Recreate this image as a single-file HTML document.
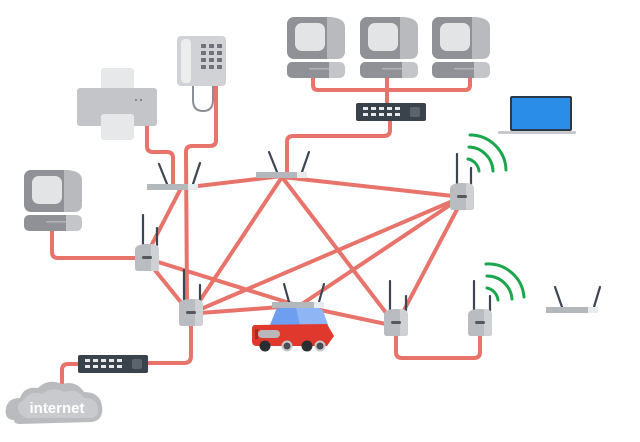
<!DOCTYPE html>
<html><head><style>
html,body{margin:0;padding:0;background:#fff;}
svg{display:block;}
</style></head><body>
<svg width="640" height="442" viewBox="0 0 640 442" xmlns="http://www.w3.org/2000/svg">
<defs>
<g id="ap">
  <path d="M-12,-8 Q-12,-14 0,-14 Q12,-14 12,-8 L12,10 Q12,13 9,13 L-9,13 Q-12,13 -12,10 Z" fill="#b9bcc1"/>
  <path d="M4,-14 Q12,-14 12,-8 L12,10 Q12,13 9,13 L4,13 Z" fill="#cfd1d5"/>
  <rect x="-5" y="-2" width="10" height="3" rx="1.5" fill="#55595f"/>
</g>
<g id="mon">
  <rect x="0" y="0" width="50" height="42" rx="7" fill="#8f9197"/>
  <path d="M40,0 Q58,0 58,10 L58,34 Q58,42 50,42 L40,42 Z" fill="#b8babe"/>
  <rect x="8" y="6" width="30" height="28" rx="7" fill="#e3e4e6"/>
  <rect x="0" y="45" width="48" height="16" rx="5" fill="#8f9197"/>
  <path d="M42,45 L52,45 Q58,45 58,51 L58,55 Q58,61 52,61 L42,61 Z" fill="#c3c5c8"/>
  <rect x="22" y="51" width="20" height="1.5" fill="#b0b2b6"/>
</g>
<g id="sw">
  <rect x="0" y="0" width="70" height="18" rx="2" fill="#3a434b"/>
  <g fill="#e8eaec">
  <rect x="7" y="4" width="5" height="3"/><rect x="15" y="4" width="5" height="3"/><rect x="23" y="4" width="5" height="3"/><rect x="31" y="4" width="5" height="3"/><rect x="39" y="4" width="5" height="3"/>
  <rect x="7" y="10" width="5" height="3"/><rect x="15" y="10" width="5" height="3"/><rect x="23" y="10" width="5" height="3"/><rect x="31" y="10" width="5" height="3"/><rect x="39" y="10" width="5" height="3"/>
  </g>
  <rect x="54" y="4" width="10" height="10" rx="2" fill="#5b646c"/>
</g>
</defs>

<!-- cables -->
<g stroke="#e8736b" stroke-width="4" fill="none" stroke-linejoin="round" stroke-linecap="round">
  <path d="M147,126 L147,146 Q147,152 153,152 L167,152 Q173,152 173,158 L173,186"/>
  <path d="M216,86 L216,140 Q216,146 210,146 L192,146 Q186,146 186,152 L187,302"/>
  <path d="M390,120 L390,130 Q390,136 384,136 L293,136 Q287,136 287,142 L287,177"/>
  <path d="M313,78 L313,85 Q313,90 318,90 L465,90 Q470,90 470,85 L470,78"/>
  <path d="M387,78 L387,104"/>
  <path d="M52,230 L52,252 Q52,258 58,258 L136,258"/>
  <path d="M191,326 L191,356 Q191,363 184,363 L148,363"/>
  <path d="M78,364 L68,364 Q62,364 62,370 L62,388"/>
  <path d="M396,334 L396,352 Q396,358 402,358 L474,358 Q480,358 480,352 L480,334"/>
  <line x1="198" y1="186" x2="282" y2="176"/>
  <line x1="180" y1="190" x2="151" y2="246"/>
  <line x1="282" y1="177" x2="462" y2="197"/>
  <line x1="282" y1="177" x2="199" y2="302"/>
  <line x1="282" y1="177" x2="390" y2="318"/>
  <line x1="462" y1="197" x2="201" y2="309"/>
  <line x1="462" y1="197" x2="302" y2="304"/>
  <line x1="462" y1="200" x2="402" y2="314"/>
  <line x1="158" y1="262" x2="296" y2="305"/>
  <line x1="150" y1="264" x2="184" y2="306"/>
  <line x1="200" y1="313" x2="280" y2="307"/>
  <line x1="320" y1="310" x2="386" y2="324"/>
</g>

<!-- printer -->
<rect x="101" y="68" width="33" height="22" rx="3" fill="#e7e8ea"/>
<rect x="77" y="88" width="80" height="38" rx="3" fill="#c3c5c9"/>
<rect x="101" y="114" width="33" height="26" rx="3" fill="#e7e8ea"/>
<circle cx="136" cy="100" r="1" fill="#777"/><circle cx="141" cy="100" r="1" fill="#777"/>

<!-- phone -->
<path d="M193,84 L193,100 Q193,111 203,111 Q213,111 213,100 L213,84" stroke="#8c8f94" stroke-width="2" fill="none"/>
<rect x="177" y="36" width="49" height="50" rx="4" fill="#d0d2d5"/>
<rect x="181" y="39" width="10" height="44" rx="4" fill="#eceded"/>
<g fill="#70747a">
<rect x="201" y="44" width="5" height="4"/><rect x="209" y="44" width="5" height="4"/><rect x="217" y="44" width="5" height="4"/>
<rect x="201" y="51" width="5" height="4"/><rect x="209" y="51" width="5" height="4"/><rect x="217" y="51" width="5" height="4"/>
<rect x="201" y="58" width="5" height="4"/><rect x="209" y="58" width="5" height="4"/><rect x="217" y="58" width="5" height="4"/>
<rect x="201" y="65" width="5" height="4"/><rect x="209" y="65" width="5" height="4"/><rect x="217" y="65" width="5" height="4"/>
</g>

<!-- monitors -->
<use href="#mon" x="287" y="17"/>
<use href="#mon" x="360" y="17"/>
<use href="#mon" x="432" y="17"/>
<use href="#mon" x="24" y="170"/>

<!-- switches -->
<use href="#sw" x="356" y="103"/>
<use href="#sw" x="78" y="355"/>

<!-- laptop -->
<rect x="510" y="96" width="62" height="35" rx="2" fill="#2b3a4a"/>
<rect x="512" y="98" width="58" height="31" fill="#2a8ee8"/>
<rect x="498" y="131" width="78" height="3" rx="1" fill="#c7c9cc"/>

<!-- wifi arcs -->
<g stroke="#1aa64c" stroke-width="3" fill="none" stroke-linecap="round">
  <path d="M468,159 A14,14 0 0 1 479,171"/>
  <path d="M469,147 A25,25 0 0 1 493,171"/>
  <path d="M470,135 A36,36 0 0 1 506,170"/>
  <path d="M487,288 A14,14 0 0 1 498,300"/>
  <path d="M487,276 A25,25 0 0 1 512,299"/>
  <path d="M486,264 A36,36 0 0 1 524,297"/>
</g>

<!-- routers (bars) -->
<g stroke="#3d4650" stroke-width="2.2" stroke-linecap="round">
  <line x1="159" y1="164" x2="167" y2="184"/><line x1="200" y1="163" x2="193" y2="184"/>
  <line x1="269" y1="152" x2="277" y2="172"/><line x1="309" y1="152" x2="302" y2="172"/>
  <line x1="555" y1="287" x2="562" y2="307"/><line x1="600" y1="287" x2="594" y2="307"/>
  <line x1="284" y1="284" x2="289" y2="302"/><line x1="324" y1="284" x2="319" y2="302"/>
</g>
<rect x="147" y="184" width="51" height="6" fill="#b3b8bc"/><rect x="188" y="184" width="10" height="6" fill="#e9ebec"/>
<rect x="256" y="172" width="50" height="6" fill="#b3b8bc"/><rect x="297" y="172" width="10" height="6" fill="#e9ebec"/>
<rect x="546" y="307" width="52" height="6" fill="#b3b8bc"/><rect x="588" y="307" width="10" height="6" fill="#e9ebec"/>

<!-- AP antennas -->
<g stroke="#3d4650" stroke-width="2.2" stroke-linecap="round">
  <line x1="143" y1="215" x2="143" y2="245"/><line x1="157" y1="228" x2="157" y2="245"/>
  <line x1="184" y1="270" x2="184" y2="300"/><line x1="200" y1="285" x2="200" y2="300"/>
  <line x1="457" y1="154" x2="457" y2="185"/><line x1="471" y1="168" x2="471" y2="185"/>
  <line x1="390" y1="281" x2="390" y2="311"/><line x1="406" y1="296" x2="406" y2="311"/>
  <line x1="474" y1="281" x2="474" y2="311"/><line x1="490" y1="296" x2="490" y2="311"/>
</g>
<use href="#ap" x="147" y="258"/>
<use href="#ap" x="191" y="313"/>
<use href="#ap" x="462" y="197"/>
<use href="#ap" x="396" y="323"/>
<use href="#ap" x="480" y="323"/>

<!-- car -->
<rect x="272" y="302" width="50" height="6" fill="#b3b8bc"/><rect x="314" y="302" width="10" height="6" fill="#e9ebec"/>
<path d="M270,325 L276,310 Q277,308 280,308 L318,308 Q321,308 323,311 L328,325 Z" fill="#6e9ef0"/>
<path d="M296,308 L318,308 Q321,308 323,311 L328,325 L300,325 Z" fill="#8fb5f5"/>
<path d="M255,325 Q252,325 252,329 L252,341 Q252,346 257,346 L327,346 L334,336 L327,324 Z" fill="#e0382c"/>
<rect x="258" y="330" width="22" height="8" rx="4" fill="#b8b8bb"/>
<rect x="255" y="329" width="3" height="10" fill="#a82a20"/>
<g fill="#2a2d31"><circle cx="265" cy="346" r="5.5"/><circle cx="307" cy="346" r="5.5"/></g>
<g fill="#4a4d52" stroke="#c7c9cc" stroke-width="2"><circle cx="287" cy="346" r="4.5"/><circle cx="320" cy="346" r="4.5"/></g>

<!-- cloud -->
<path d="M14,420 Q4,420 6,408 Q8,398 20,398 Q24,386 38,388 Q48,378 62,384 Q76,380 84,392 Q100,392 102,406 Q104,420 92,422 L20,424 Q14,424 14,420 Z" fill="#b9bbbf"/>
<path d="M20,414 Q14,404 24,400 Q30,390 42,394 Q52,386 64,392 Q78,388 84,398 Q98,398 98,410 Q98,418 90,418 L26,418 Z" fill="#c8cacd"/>
<text x="57" y="413" font-family="Liberation Sans, sans-serif" font-size="15" font-weight="bold" fill="#ffffff" text-anchor="middle">internet</text>
</svg>
</body></html>
